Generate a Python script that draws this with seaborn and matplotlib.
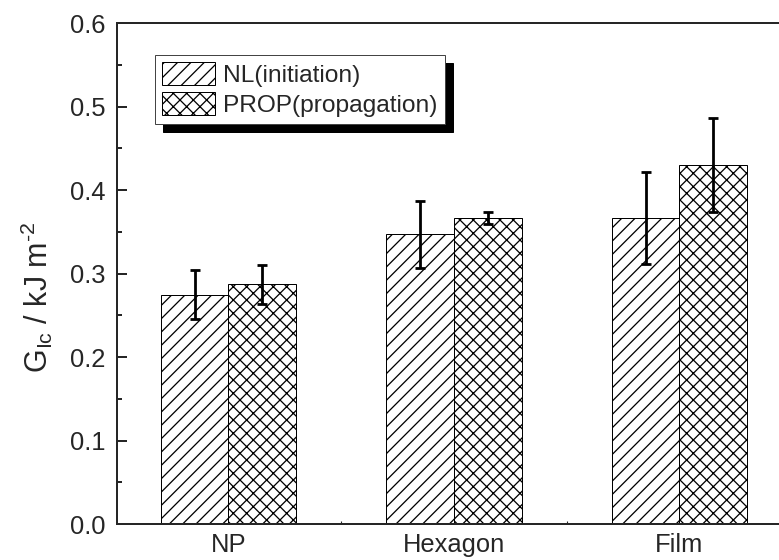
import matplotlib
matplotlib.use("Agg")
import matplotlib.pyplot as plt
import seaborn as sns
import pandas as pd
from matplotlib.patches import Patch
from matplotlib.ticker import MultipleLocator, FixedLocator, FormatStrFormatter

# ---- data ----
categories = ["NP", "Hexagon", "Film"]
series_names = ["NL(initiation)", "PROP(propagation)"]
nl_values = [0.275, 0.347, 0.367]
nl_errors = [0.029, 0.040, 0.055]
prop_values = [0.287, 0.367, 0.430]
prop_errors = [0.023, 0.007, 0.056]
hatches = ["//", "xx"]

sns.set_style("ticks")
plt.rcParams["font.family"] = ["Liberation Sans", "DejaVu Sans"]
plt.rcParams["mathtext.fontset"] = "custom"
plt.rcParams["mathtext.rm"] = "Liberation Sans"
plt.rcParams["mathtext.it"] = "Liberation Sans"
plt.rcParams["mathtext.bf"] = "Liberation Sans:bold"
plt.rcParams["hatch.linewidth"] = 1.15
plt.rcParams["axes.linewidth"] = 1.8

df = pd.DataFrame({
    "cat": categories * 2,
    "val": nl_values + prop_values,
    "series": [series_names[0]] * 3 + [series_names[1]] * 3,
})
errs = [nl_errors, prop_errors]

DPI = 80
fig = plt.figure(figsize=(779 / DPI, 560 / DPI), dpi=DPI)
ax = fig.add_axes([116.7 / 779, 1 - 524 / 560, (791 - 116.7) / 779, (524 - 23.3) / 560])

sns.barplot(data=df, x="cat", y="val", hue="series", order=categories,
            hue_order=series_names, palette=["white", "white"], saturation=1,
            width=0.6, gap=0, errorbar=None, edgecolor="black", linewidth=0.9,
            legend=False, ax=ax)

for cont, h, e in zip(ax.containers, hatches, errs):
    xs, ys = [], []
    for p in cont:
        p.set_hatch(h)
        p.set_edgecolor("black")
        xs.append(p.get_x() + p.get_width() / 2)
        ys.append(p.get_height())
    ax.errorbar(xs, ys, yerr=e, fmt="none", ecolor="black", elinewidth=2.5,
                capsize=4.5, capthick=2.5, zorder=5)

ax.set_xlim(-0.495, 2.495)
ax.set_ylim(0, 0.6)
ax.yaxis.set_major_locator(MultipleLocator(0.1))
ax.yaxis.set_minor_locator(MultipleLocator(0.05))
ax.yaxis.set_major_formatter(FormatStrFormatter("%.1f"))
ax.xaxis.set_minor_locator(FixedLocator([0.5, 1.5]))

ax.tick_params(axis="y", which="major", direction="in", length=9, width=1.8,
               labelsize=23, pad=10)
ax.tick_params(axis="y", which="minor", direction="in", length=4.5, width=1.8)
ax.tick_params(axis="x", which="major", direction="in", length=6, width=1.2,
               labelsize=23, pad=8.5)
ax.tick_params(axis="x", which="minor", direction="in", length=3, width=1.0)

for s in ["left", "bottom", "top"]:
    ax.spines[s].set_visible(True)
    ax.spines[s].set_linewidth(1.8)
ax.spines["right"].set_visible(False)

ax.set_xlabel("")
ax.set_ylabel(r"G$_{\mathregular{Ic}}$ / kJ m$^{\text{-2}}$", fontsize=27.5)
ax.yaxis.set_label_coords(-0.092, 0.452)

handles = [Patch(facecolor="white", edgecolor="black", hatch=h, linewidth=0.9, label=n)
           for h, n in zip(hatches, series_names)]
leg = ax.legend(handles=handles, loc="upper left",
                bbox_to_anchor=(155 / 779, 1 - 55 / 560), bbox_transform=fig.transFigure,
                borderaxespad=0, fontsize=22, frameon=True, fancybox=False,
                framealpha=1, edgecolor="#444444", handlelength=2.15, handleheight=1.05,
                handletextpad=0.35, labelspacing=0.2, borderpad=0.3,
                shadow={"ox": 7, "oy": -7, "facecolor": "black", "edgecolor": "black", "alpha": 1})
leg.get_frame().set_linewidth(0.9)

fig.savefig("out.png", dpi=DPI)
